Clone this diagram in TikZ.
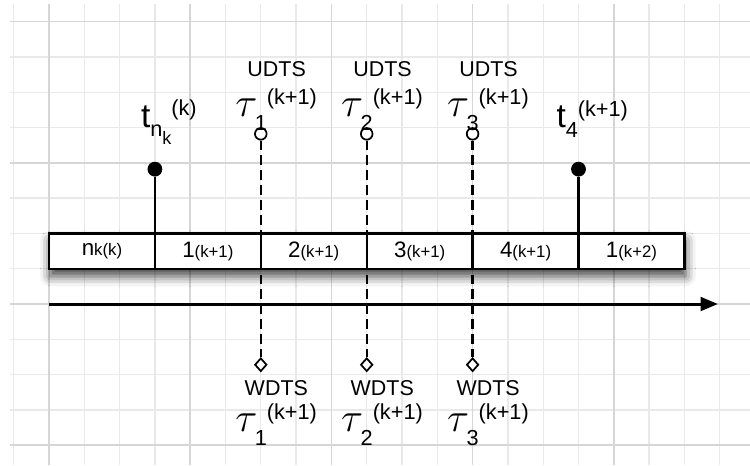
\RequirePackage{fix-cm}
\documentclass[tikz,border=0pt]{standalone}
\usepackage{fontspec}
\setmainfont{Liberation Sans}
\usetikzlibrary{arrows.meta,shapes.geometric,shadows.blur}

\newcommand{\idx}[1]{{\fontsize{17.5}{17.5}\selectfont #1}}
\newcommand{\tauglyph}{{\fontsize{33}{33}\selectfont$\tau$}}
\newcommand{\taulabel}[1]{\tauglyph\kern-2pt\raisebox{-11.3pt}{\idx{#1}}\raisebox{9.7pt}{\idx{(k+1)}}}
\newcommand{\slotlabel}[2]{#1{\fontsize{13.5}{13.5}\selectfont #2}}

\tikzset{
  minorgrid/.style={gray!17, line width=1pt},
  majorgrid/.style={gray!32, line width=1.2pt},
  slot/.style={draw, line width=1.8pt, fill=white, minimum width=3cm,
    minimum height=1cm, inner sep=0pt, outer sep=0pt,
    font=\fontsize{18}{18}\selectfont},
  stem/.style={line width=2pt},
  marker/.style={dash pattern=on 8pt off 4pt, line width=1.8pt},
  dot/.style={circle, fill, inner sep=0pt, minimum size=0.42cm},
  openmark/.style={circle, draw, line width=1.4pt, fill=white,
    inner sep=0pt, minimum size=0.33cm},
  diamondmark/.style={diamond, draw, line width=1.4pt, fill=white,
    inner sep=0pt, minimum width=0.34cm, minimum height=0.38cm},
  tag/.style={inner sep=0pt, anchor=base, font=\fontsize{17.3}{17.3}\selectfont},
  stamp/.style={inner sep=0pt, anchor=base west, font=\fontsize{27}{27}\selectfont},
}

\begin{document}
\begin{tikzpicture}
      \useasboundingbox (-1.388,-4.561) rectangle (19.858,8.612);
      \draw[minorgrid, step=1] (-1.11,-4.561) grid (19.858,8.5);
      \draw[majorgrid, step=4] (-1.11,-4.561) grid (19.858,8.5);

      \draw
        (6,4.82) node[openmark] (u1){}
        (9,4.82) node[openmark] (u2){}
        (12,4.82) node[openmark] (u3){}
        (6,-1.72) node[diamondmark] (w1){}
        (9,-1.72) node[diamondmark] (w2){}
        (12,-1.72) node[diamondmark] (w3){};
      \begin{scope}[marker]
        \draw (u1) to (w1);
        \draw (u2) to (w2);
        \draw (u3) to (w3);
      \end{scope}

      \coordinate (origin) at (0,0);
      \coordinate (tip) at (18.95,0);
      \draw[line width=2.4pt, -{Triangle[length=14pt,width=11pt]}] (origin) -- (tip);

      % the slot strip
      \node[slot, minimum width=18cm,
        blur shadow={shadow xshift=1pt, shadow yshift=-6pt,
          shadow blur radius=8pt, shadow opacity=75}]
        (strip) at (9,1.5) {};
      \draw
        (1.5,1.5) node[slot] (c0){\slotlabel{n}{k(k)}}
        (4.5,1.5) node[slot] (c1){\slotlabel{1}{(k+1)}}
        (7.5,1.5) node[slot] (c2){\slotlabel{2}{(k+1)}}
        (10.5,1.5) node[slot] (c3){\slotlabel{3}{(k+1)}}
        (13.5,1.5) node[slot] (c4){\slotlabel{4}{(k+1)}}
        (16.5,1.5) node[slot] (c5){\slotlabel{1}{(k+2)}};

      \draw
        (3,3.82) node[dot] (dk){}
        (15,3.82) node[dot] (d4){};
      \begin{scope}[stem]
        \draw (dk) to (c0.north east);
        \draw (d4) to (c4.north east);
      \end{scope}

      \node[stamp] (tnk) at (2.6,5.0)
        {t\raisebox{-7.6pt}{\idx{n}\raisebox{-6pt}{\fontsize{14.5}{14.5}\selectfont k}}\raisebox{9.7pt}{\idx{(k)}}};
      \node[stamp] (t4) at (14.37,5.0)
        {t\raisebox{-8pt}{\idx{4}}\raisebox{9pt}{\idx{(k+1)}}};

      \node[tag] (ud1) at (6.45,6.44) {UDTS};
      \node[tag] (ud2) at (9.45,6.44) {UDTS};
      \node[tag] (ud3) at (12.45,6.44) {UDTS};
      \node[stamp] (tu1) at (5.27,5.31) {\taulabel{1}};
      \node[stamp] (tu2) at (8.27,5.31) {\taulabel{2}};
      \node[stamp] (tu3) at (11.27,5.31) {\taulabel{3}};

      \node[tag] (wd1) at (6.44,-2.58) {WDTS};
      \node[tag] (wd2) at (9.44,-2.58) {WDTS};
      \node[tag] (wd3) at (12.44,-2.58) {WDTS};
      \node[stamp] (tw1) at (5.27,-3.6) {\taulabel{1}};
      \node[stamp] (tw2) at (8.27,-3.6) {\taulabel{2}};
      \node[stamp] (tw3) at (11.27,-3.6) {\taulabel{3}};
    \end{tikzpicture}
\end{document}
